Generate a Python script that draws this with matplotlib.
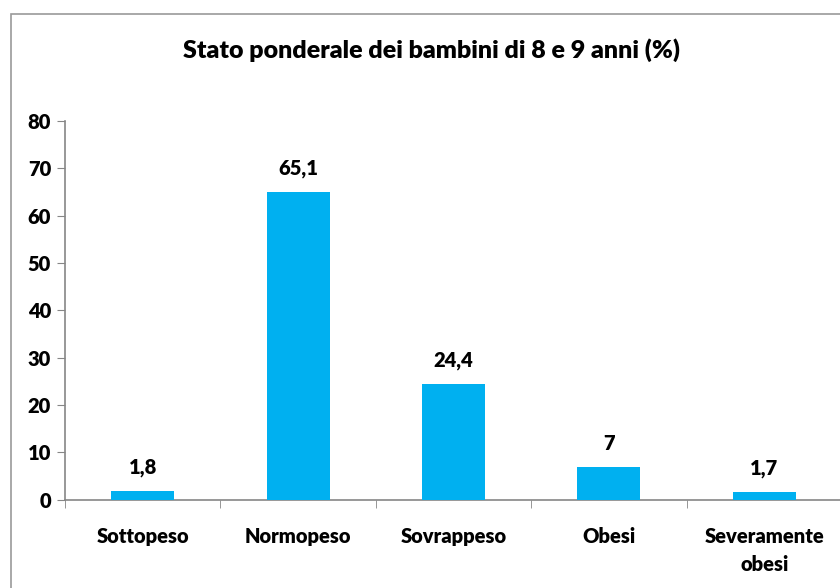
import matplotlib.pyplot as plt
from matplotlib.patches import Rectangle

categories = ['Sottopeso', 'Normopeso', 'Sovrappeso', 'Obesi', 'Severamente\nobesi']
values = [1.8, 65.1, 24.4, 7, 1.7]
labels = ['1,8', '65,1', '24,4', '7', '1,7']
yticks = [0, 10, 20, 30, 40, 50, 60, 70, 80]

plt.rcParams['font.family'] = ['Lato', 'DejaVu Sans']
plt.rcParams['font.weight'] = 'heavy'
W = 'heavy'

fig = plt.figure(figsize=(8.4, 5.88), dpi=100)
ax = fig.add_axes([65 / 840, 1 - 499.7 / 588, 777 / 840, (499.7 - 121) / 588])

# chart frame like Excel
fig.patches.append(Rectangle((11 / 840, -0.1), 1.2, 1 - 14 / 588 + 0.1,
                             transform=fig.transFigure, fill=False,
                             edgecolor='#9a9a9a', linewidth=1.2))

x = range(len(categories))
ax.bar(x, values, width=0.405, color='#00B0F0', zorder=3)
for xi, v, lab in zip(x, values, labels):
    ax.annotate(lab, (xi, v), xytext=(0, 10), textcoords='offset points',
                ha='center', va='bottom', fontsize=14.5, fontweight=W)

ax.set_xlim(-0.5, len(categories) - 0.5)
ax.set_ylim(0, 80)
ax.set_yticks(yticks)
ax.set_yticklabels([str(t) for t in yticks], fontsize=14.5, fontweight=W)
ax.set_xticks(list(x))
ax.set_xticklabels(categories, fontsize=14.5, fontweight=W, linespacing=1.55)
ax.tick_params(axis='x', length=0, pad=20)
ax.set_xticks([i + 0.5 for i in range(-1, len(categories))], minor=True)
ax.tick_params(axis='x', which='minor', length=6, color='#868686', direction='out')
ax.tick_params(axis='y', length=6, color='#868686', direction='out', pad=4)

for s in ['top', 'right']:
    ax.spines[s].set_visible(False)
for s in ['left', 'bottom']:
    ax.spines[s].set_color('#868686')
    ax.spines[s].set_linewidth(1.2)
ax.spines['bottom'].set_clip_on(False)

fig.text(432 / 840, 1 - 50 / 588, 'Stato ponderale dei bambini di 8 e 9 anni (%)',
         ha='center', va='center', fontsize=18, fontweight=W)

fig.savefig('out.png', dpi=100)
